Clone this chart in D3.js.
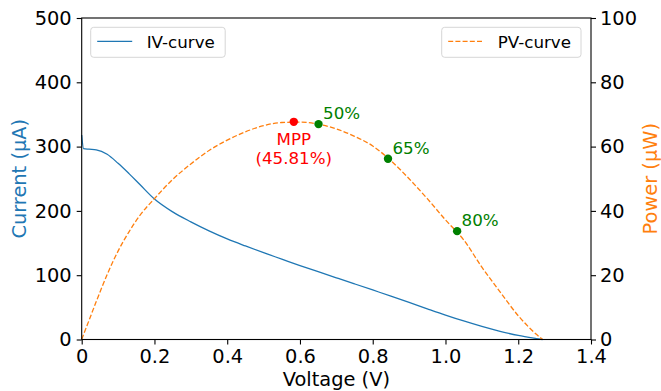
<!DOCTYPE html>
<html>
<head>
<meta charset="utf-8">
<script src="https://cdn.jsdelivr.net/npm/d3@7"></script>
<style>
  body { margin: 0; background: #fff; }
  svg text { font-family: "DejaVu Sans", sans-serif; }
</style>
</head>
<body>
<div id="chart"></div>
<script>
// values
const voltage = [0, 0.005, 0.02, 0.04, 0.07, 0.1, 0.13, 0.16, 0.2, 0.25, 0.3, 0.35, 0.4, 0.45, 0.5,
                 0.55, 0.6, 0.65, 0.7, 0.75, 0.8, 0.85, 0.9, 0.95, 1.0, 1.05, 1.1, 1.15, 1.2, 1.25, 1.267];
const current = [318, 297, 296, 295, 288, 274, 258, 241, 218.5, 198.5, 183, 169, 156.5, 145.5, 135,
                 125, 115, 105.5, 96, 86.5, 77, 67.5, 57.8, 47.8, 38, 28.8, 20.3, 12.7, 6.3, 1.5, 0];
const power = [0, 1.5, 5.9, 11.8, 20.2, 27.5, 33.5, 38.6, 43.8, 49.8, 54.6, 58.8, 62.0, 64.6, 66.5,
               67.5, 67.6, 67.0, 65.5, 63.2, 60.2, 55.6, 50.0, 43.8, 37.2, 31.0, 22.5, 14.8, 7.4, 1.6, 0];

const mppV = 0.583, mppP = 67.7, mppLabel = ["MPP", "(45.81%)"];
const ptV = [0.651, 0.842, 1.032];
const ptP = [67.0, 56.2, 33.7];
const ptLabels = ["50%", "65%", "80%"];

const xTicks = [0, 0.2, 0.4, 0.6, 0.8, 1.0, 1.2, 1.4];
const yTicks = [0, 100, 200, 300, 400, 500];
const y2Ticks = [0, 20, 40, 60, 80, 100];

const W = 661, H = 391;
const margin = {top: 18, right: 70, bottom: 51.5, left: 81.7};
const width = W - margin.left - margin.right,
      height = H - margin.top - margin.bottom;

const blue = "#1f77b4", orange = "#ff7f0e", green = "#008000", red = "#ff0000";
const fsBig = 19.4, fsSmall = 16.7;

const svg = d3.select("#chart").append("svg")
  .attr("width", W).attr("height", H);

const g = svg.append("g")
  .attr("transform", "translate(" + margin.left + "," + margin.top + ")");

const x = d3.scaleLinear().domain([0, 1.4]).range([0, width]);
const y = d3.scaleLinear().domain([0, 500]).range([height, 0]);
const y2 = d3.scaleLinear().domain([0, 100]).range([height, 0]);

const ivData = voltage.map((v, i) => ({v: v, i: current[i]}));
const pvData = voltage.map((v, i) => ({v: v, p: power[i]}));

// curves
g.append("path")
  .datum(ivData)
  .attr("fill", "none")
  .attr("stroke", blue)
  .attr("stroke-width", 1.3)
  .attr("d", d3.line().curve(d3.curveMonotoneX).x(d => x(d.v)).y(d => y(d.i)));

g.append("path")
  .datum(pvData)
  .attr("fill", "none")
  .attr("stroke", orange)
  .attr("stroke-width", 1.3)
  .attr("stroke-dasharray", "5,2.2")
  .attr("d", d3.line().curve(d3.curveMonotoneX).x(d => x(d.v)).y(d => y2(d.p)));

// axes
const xAxis = g.append("g")
  .attr("transform", "translate(0," + height + ")")
  .call(d3.axisBottom(x).tickValues(xTicks).tickSize(5).tickPadding(5)
    .tickFormat(d => d === 0 ? "0" : d.toFixed(1)));

const yAxis = g.append("g")
  .call(d3.axisLeft(y).tickValues(yTicks).tickSize(5).tickPadding(5).tickFormat(d3.format("d")));

const y2Axis = g.append("g")
  .attr("transform", "translate(" + width + ",0)")
  .call(d3.axisRight(y2).tickValues(y2Ticks).tickSize(5).tickPadding(4).tickFormat(d3.format("d")));

[xAxis, yAxis, y2Axis].forEach(a => {
  a.select(".domain").remove();
  a.selectAll(".tick line").attr("stroke", "#000").attr("stroke-width", 1.1);
  a.selectAll(".tick text").attr("fill", "#000").style("font-size", fsBig + "px");
});

// frame
g.append("rect")
  .attr("width", width).attr("height", height)
  .attr("fill", "none").attr("stroke", "#000").attr("stroke-width", 1.1);

// points
g.append("circle")
  .attr("cx", x(mppV)).attr("cy", y2(mppP)).attr("r", 4.2).attr("fill", red);

g.append("text")
  .attr("x", x(mppV)).attr("y", y2(mppP) + 23.3)
  .attr("text-anchor", "middle").attr("fill", red).style("font-size", fsSmall + "px")
  .selectAll("tspan").data(mppLabel).join("tspan")
  .attr("x", x(mppV)).attr("dy", (d, i) => i === 0 ? 0 : 18.8)
  .text(d => d);

g.selectAll(".pt").data(ptV).join("circle")
  .attr("class", "pt")
  .attr("cx", d => x(d)).attr("cy", (d, i) => y2(ptP[i])).attr("r", 4.2).attr("fill", green);

g.selectAll(".ptlabel").data(ptV).join("text")
  .attr("class", "ptlabel")
  .attr("x", d => x(d) + 4.5).attr("y", (d, i) => y2(ptP[i]) - 5)
  .attr("fill", green).style("font-size", fsSmall + "px")
  .text((d, i) => ptLabels[i]);

// legends
function legend(x0, y0, w, label, color, dash) {
  const lg = svg.append("g").attr("transform", "translate(" + x0 + "," + y0 + ")");
  lg.append("rect")
    .attr("width", w).attr("height", 30).attr("rx", 3)
    .attr("fill", "#fff").attr("fill-opacity", 0.8)
    .attr("stroke", "#d6d6d6").attr("stroke-width", 1);
  lg.append("line")
    .attr("x1", 6.5).attr("x2", 41.5).attr("y1", 14).attr("y2", 14)
    .attr("stroke", color).attr("stroke-width", 1.3)
    .attr("stroke-dasharray", dash);
  lg.append("text")
    .attr("x", 56).attr("y", 20.5).attr("fill", "#000").style("font-size", fsSmall + "px")
    .text(label);
}
legend(90.7, 27.3, 134.5, "IV-curve", blue, null);
legend(441.7, 27.3, 139.3, "PV-curve", orange, "5,2.2");

// axis labels
svg.append("text")
  .attr("x", margin.left + width / 2).attr("y", 386)
  .attr("text-anchor", "middle").attr("fill", "#000").style("font-size", fsBig + "px")
  .text("Voltage (V)");

svg.append("text")
  .attr("transform", "translate(26," + (margin.top + height / 2) + ") rotate(-90)")
  .attr("text-anchor", "middle").attr("fill", blue).style("font-size", fsBig + "px")
  .text("Current (µA)");

svg.append("text")
  .attr("transform", "translate(657," + (margin.top + height / 2) + ") rotate(-90)")
  .attr("text-anchor", "middle").attr("fill", orange).style("font-size", fsBig + "px")
  .text("Power (µW)");
</script>
</body>
</html>
